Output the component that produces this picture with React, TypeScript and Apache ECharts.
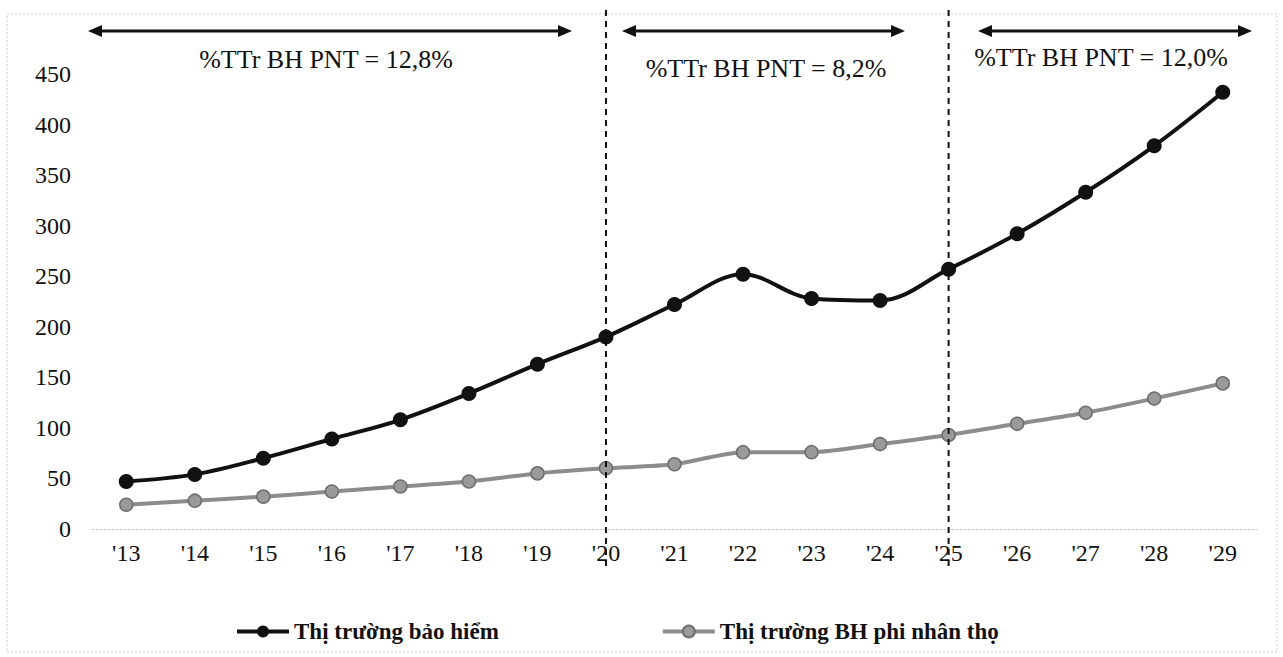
import React, { useEffect, useRef } from "react";
import * as echarts from "echarts";

const years = ["'13", "'14", "'15", "'16", "'17", "'18", "'19", "'20", "'21", "'22", "'23", "'24", "'25", "'26", "'27", "'28", "'29"];
const insuranceMarket = [47, 54, 70, 89, 108, 134, 163, 190, 222, 252, 228, 226, 257, 292, 333, 379, 432];
const nonLifeMarket = [24, 28, 32, 37, 42, 47, 55, 60, 64, 76, 76, 84, 93, 104, 115, 129, 144];
const seriesNames = ["Thị trường bảo hiểm", "Thị trường BH phi nhân thọ"];
const yMin = 0;
const yMax = 450;
const yInterval = 50;
const dividerYears = ["'20", "'25"];
const periodLabels = ["%TTr BH PNT = 12,8%", "%TTr BH PNT = 8,2%", "%TTr BH PNT = 12,0%"];

const FONT = "Liberation Serif";

function arrow(x1: number, x2: number, y: number) {
  const h = 14;
  const w = 6;
  return [
    { type: "line", shape: { x1: x1 + h - 2, y1: y, x2: x2 - h + 2, y2: y }, style: { stroke: "#111", lineWidth: 3 } },
    { type: "polygon", shape: { points: [[x1, y], [x1 + h, y - w], [x1 + h, y + w]] }, style: { fill: "#111" } },
    { type: "polygon", shape: { points: [[x2, y], [x2 - h, y - w], [x2 - h, y + w]] }, style: { fill: "#111" } },
  ];
}

export default function App() {
  const ref = useRef<HTMLDivElement>(null);
  useEffect(() => {
    if (!ref.current) return;
    const chart = echarts.init(ref.current, undefined, { renderer: "svg" });
    chart.setOption({
      animation: false,
      backgroundColor: "#fff",
      textStyle: { fontFamily: FONT },
      grid: { left: 92, right: 26, top: 74, bottom: 128 },
      legend: {
        left: 230,
        top: 615,
        itemWidth: 52,
        itemHeight: 15,
        itemGap: 162,
        lineStyle: { width: 4 },
        textStyle: { fontFamily: FONT, fontSize: 23, fontWeight: "bold", color: "#111" },
        data: seriesNames,
      },
      xAxis: {
        type: "category",
        data: years,
        boundaryGap: true,
        axisLine: { lineStyle: { color: "#c8c8c8", type: [2, 2], width: 1 } },
        axisTick: { show: false },
        axisLabel: { fontFamily: FONT, fontSize: 24, color: "#111", margin: 12 },
      },
      yAxis: {
        type: "value",
        min: yMin,
        max: yMax,
        interval: yInterval,
        axisLine: { show: false },
        axisTick: { show: false },
        splitLine: { show: false },
        axisLabel: { fontFamily: FONT, fontSize: 24, color: "#111", margin: 21 },
      },
      series: [
        {
          name: seriesNames[1],
          type: "line",
          data: nonLifeMarket,
          smooth: 0.25,
          symbol: "circle",
          symbolSize: 13,
          lineStyle: { color: "#8c8c8c", width: 4 },
          itemStyle: { color: "#9a9a9a", borderColor: "#6e6e6e", borderWidth: 1.5 },
          z: 2,
        },
        {
          name: seriesNames[0],
          type: "line",
          data: insuranceMarket,
          smooth: 0.35,
          symbol: "circle",
          symbolSize: 15,
          lineStyle: { color: "#111", width: 4 },
          itemStyle: { color: "#111" },
          z: 3,
        },
      ],
    });

    const xs = dividerYears.map((y) => chart.convertToPixel({ xAxisIndex: 0 }, y) as number);
    const graphic: any[] = [
      { type: "rect", shape: { x: 7, y: 14, width: 1270, height: 638 }, style: { fill: "none", stroke: "#cfcfcf", lineWidth: 1, lineDash: [2, 2] }, silent: true },
    ];
    xs.forEach((x) => {
      graphic.push({ type: "line", shape: { x1: x, y1: 10, x2: x, y2: 566 }, style: { stroke: "#111", lineWidth: 2, lineDash: [6, 5] }, z: 10 });
    });
    graphic.push(...arrow(88, 572, 31), ...arrow(622, 905, 31), ...arrow(978, 1252, 31));
    const labelPos = [
      [326, 59],
      [766, 68],
      [1101, 57],
    ];
    periodLabels.forEach((t, i) => {
      graphic.push({
        type: "text",
        x: labelPos[i][0],
        y: labelPos[i][1],
        style: { text: t, fontFamily: FONT, fontSize: 26, fill: "#111", textAlign: "center", textVerticalAlign: "middle" },
      });
    });
    chart.setOption({ graphic });

    return () => chart.dispose();
  }, []);
  return <div ref={ref} style={{ position: "fixed", left: 0, top: 0, width: 1283, height: 657 }} />;
}
